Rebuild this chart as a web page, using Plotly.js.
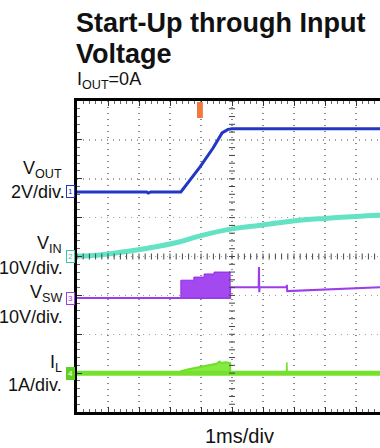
<!DOCTYPE html>
<html><head><meta charset="utf-8">
<script src="https://cdn.plot.ly/plotly-3.0.1.min.js"></script>
<style>html,body{margin:0;padding:0;background:#fff;}#chart{width:380px;height:448px;}</style>
</head><body><div id="chart"></div>
<script>
// ---- data (time in ms, 1 ms/div) ----
const voutTime  = [0, 2.25, 2.3, 2.38, 3.35, 3.97, 4.39, 4.68, 4.87, 5.0, 9.8];
const voutVolts = [0, 0, -0.06, 0, 0, 1.29, 2.26, 3.04, 3.22, 3.25, 3.25];

const vinTime  = [0, 0.74, 1.71, 2.68, 3.32, 3.97, 5.0, 6.0, 7.03, 8.0, 9.0, 9.8];
const vinVolts = [0.2, 0.5, 1.5, 2.8, 3.9, 5.4, 7.2, 8.2, 9.3, 9.9, 10.4, 10.7];

const vswTime  = [0, 4.94, 4.94, 5.86, 5.87, 5.88, 5.89, 6.76, 6.77, 6.78, 9.8];
const vswVolts = [0, 0, 2.8, 2.8, 8.0, 1.5, 2.8, 2.8, 3.4, 1.8, 2.8];
const vswBurstTime  = [3.35, 3.35, 3.77, 3.77, 4.1, 4.1, 4.42, 4.42, 4.94, 4.94];
const vswBurstVolts = [0, 4.6, 4.6, 5.4, 5.4, 6.2, 6.2, 6.7, 6.7, 0];

const ilTime = [0, 9.8];
const ilAmps = [0, 0];
const ilSpikeTime = [6.76, 6.77, 6.78];
const ilSpikeAmps = [0, 0.28, 0];
const ilHumpTime = [3.35, 3.35, 3.6, 3.97, 4.3, 4.5, 4.6, 4.65, 4.8, 4.94, 4.94];
const ilHumpAmps = [0, 0.05, 0.1, 0.15, 0.2, 0.24, 0.3, 0.26, 0.28, 0.26, 0];

// channel ground positions (divisions from bottom) and scales (units/div)
const CH = {
  vout: {off: 5.66, scale: 2},
  vin:  {off: 3.99, scale: 10},
  vsw:  {off: 2.93, scale: 10},
  il:   {off: 1.0,  scale: 1}
};
const toDiv = (arr, ch) => arr.map(v => ch.off + v / ch.scale);

const FONT = 'Liberation Sans, Arial, Helvetica, sans-serif';
const py = P => (412 - P) / 311;   // pixel y -> paper y
const px = X => (X - 77) / 303;    // pixel x -> paper x

const traces = [
  {x: vinTime, y: toDiv(vinVolts, CH.vin), mode: 'lines', line: {color: '#63e3c4', width: 5, shape: 'spline'}, hoverinfo: 'skip'},
  {x: vswBurstTime, y: toDiv(vswBurstVolts, CH.vsw), mode: 'lines', fill: 'toself', fillcolor: '#a448f0', line: {color: '#8f2ee6', width: 1}, hoverinfo: 'skip'},
  {x: vswTime, y: toDiv(vswVolts, CH.vsw), mode: 'lines', line: {color: '#9b3ee8', width: 2}, hoverinfo: 'skip'},
  {x: ilHumpTime, y: toDiv(ilHumpAmps, CH.il), mode: 'lines', fill: 'toself', fillcolor: '#86ea44', line: {color: '#6ee02a', width: 2}, hoverinfo: 'skip'},
  {x: ilTime, y: toDiv(ilAmps, CH.il), mode: 'lines', line: {color: '#74e22c', width: 5}, hoverinfo: 'skip'},
  {x: ilSpikeTime, y: toDiv(ilSpikeAmps, CH.il), mode: 'lines', line: {color: '#74e22c', width: 1.5}, hoverinfo: 'skip'},
  {x: voutTime, y: toDiv(voutVolts, CH.vout), mode: 'lines', line: {color: '#2436c4', width: 3}, hoverinfo: 'skip'}
];

// decorative scope center cross
const shapes = [];
for (let k = 0; k <= 40; k++) {
  shapes.push({type: 'line', xref: 'x', yref: 'y', xsizemode: 'pixel', xanchor: 5, x0: -3, x1: 3, y0: k * 0.2, y1: k * 0.2, line: {color: '#444', width: 1}});
}
for (let k = 0; k <= 50; k++) {
  shapes.push({type: 'line', xref: 'x', yref: 'y', ysizemode: 'pixel', yanchor: 4, y0: -3, y1: 3, x0: k * 0.2, x1: k * 0.2, line: {color: '#444', width: 1}});
}
// trigger marker
shapes.push({type: 'rect', xref: 'x', yref: 'paper', x0: 3.87, x1: 4.06, y0: py(118), y1: py(102), fillcolor: '#f07a3c', line: {width: 0}});

function chMarker(label, ch, color, filled) {
  return {xref: 'paper', yref: 'y', x: px(70), y: ch.off, xanchor: 'center', yanchor: 'middle', text: label, showarrow: false,
    font: {family: FONT, size: 8, color: filled ? '#ffffff' : color}, bordercolor: color, borderwidth: 1, borderpad: 1,
    bgcolor: filled ? color : '#ffffff'};
}
function lab(text, xr, base, size) {
  return {xref: 'paper', yref: 'paper', x: px(xr), y: py(base - 0.35 * size), xanchor: 'right', yanchor: 'middle',
    text: text, showarrow: false, font: {family: FONT, size: size, color: '#111'}, borderpad: 0};
}

const annotations = [
  {xref: 'paper', yref: 'paper', x: px(75), y: py(32 - 0.35 * 27), xanchor: 'left', yanchor: 'middle', showarrow: false,
   text: '<b>Start-Up through Input</b>', font: {family: FONT, size: 27, color: '#111'}, borderpad: 0},
  {xref: 'paper', yref: 'paper', x: px(75), y: py(63 - 0.35 * 27), xanchor: 'left', yanchor: 'middle', showarrow: false,
   text: '<b>Voltage</b>', font: {family: FONT, size: 27, color: '#111'}, borderpad: 0},
  {xref: 'paper', yref: 'paper', x: px(76), y: py(87 - 0.35 * 18), xanchor: 'left', yanchor: 'middle', showarrow: false,
   text: 'I<sub>OUT</sub>=0A', font: {family: FONT, size: 18, color: '#111'}, borderpad: 0},
  lab('V<sub>OUT</sub>', 63, 176, 18),
  lab('2V/div.', 66, 198, 18),
  lab('V<sub>IN</sub>', 63, 251, 18),
  lab('10V/div.', 64, 274, 18),
  lab('V<sub>SW</sub>', 63, 300, 18),
  lab('10V/div.', 64, 323, 18),
  lab('I<sub>L</sub>', 63, 370, 18),
  lab('1A/div.', 63, 391, 18),
  {xref: 'paper', yref: 'paper', x: px(239), y: py(443 - 0.35 * 20), xanchor: 'center', yanchor: 'middle', showarrow: false,
   text: '1ms/div', font: {family: FONT, size: 20, color: '#111'}, borderpad: 0},
  chMarker('1', CH.vout, '#2436c4', false),
  chMarker('2', CH.vin, '#3cc8a8', false),
  chMarker('3', CH.vsw, '#9b3ee8', false),
  chMarker('4', CH.il, '#5fd020', true)
];

const layout = {
  width: 380, height: 448,
  margin: {l: 77, r: 0, t: 101, b: 36, pad: 0},
  paper_bgcolor: '#ffffff', plot_bgcolor: '#ffffff',
  showlegend: false,
  xaxis: {range: [0, 303 / 31], dtick: 1, showgrid: true, gridcolor: '#8a8a8a', griddash: '1px,5px', gridwidth: 1.5,
    zeroline: false, showticklabels: false, showline: true, linecolor: '#000', linewidth: 3, mirror: 'ticks',
    ticks: 'inside', ticklen: 5, tickcolor: '#333', tickwidth: 1,
    minor: {dtick: 0.2, ticks: 'inside', ticklen: 3, tickcolor: '#666', showgrid: false}, fixedrange: true},
  yaxis: {range: [0, 8], dtick: 1, showgrid: true, gridcolor: '#a0a0a0', griddash: '1px,5px', gridwidth: 1.5,
    zeroline: false, showticklabels: false, showline: true, linecolor: '#000', linewidth: 3,
    ticks: 'inside', ticklen: 5, tickcolor: '#333', tickwidth: 1,
    minor: {dtick: 0.2, ticks: 'inside', ticklen: 3, tickcolor: '#666', showgrid: false}, fixedrange: true},
  shapes: shapes,
  annotations: annotations
};

Plotly.newPlot('chart', traces, layout, {displayModeBar: false, staticPlot: true});
</script>
</body></html>
